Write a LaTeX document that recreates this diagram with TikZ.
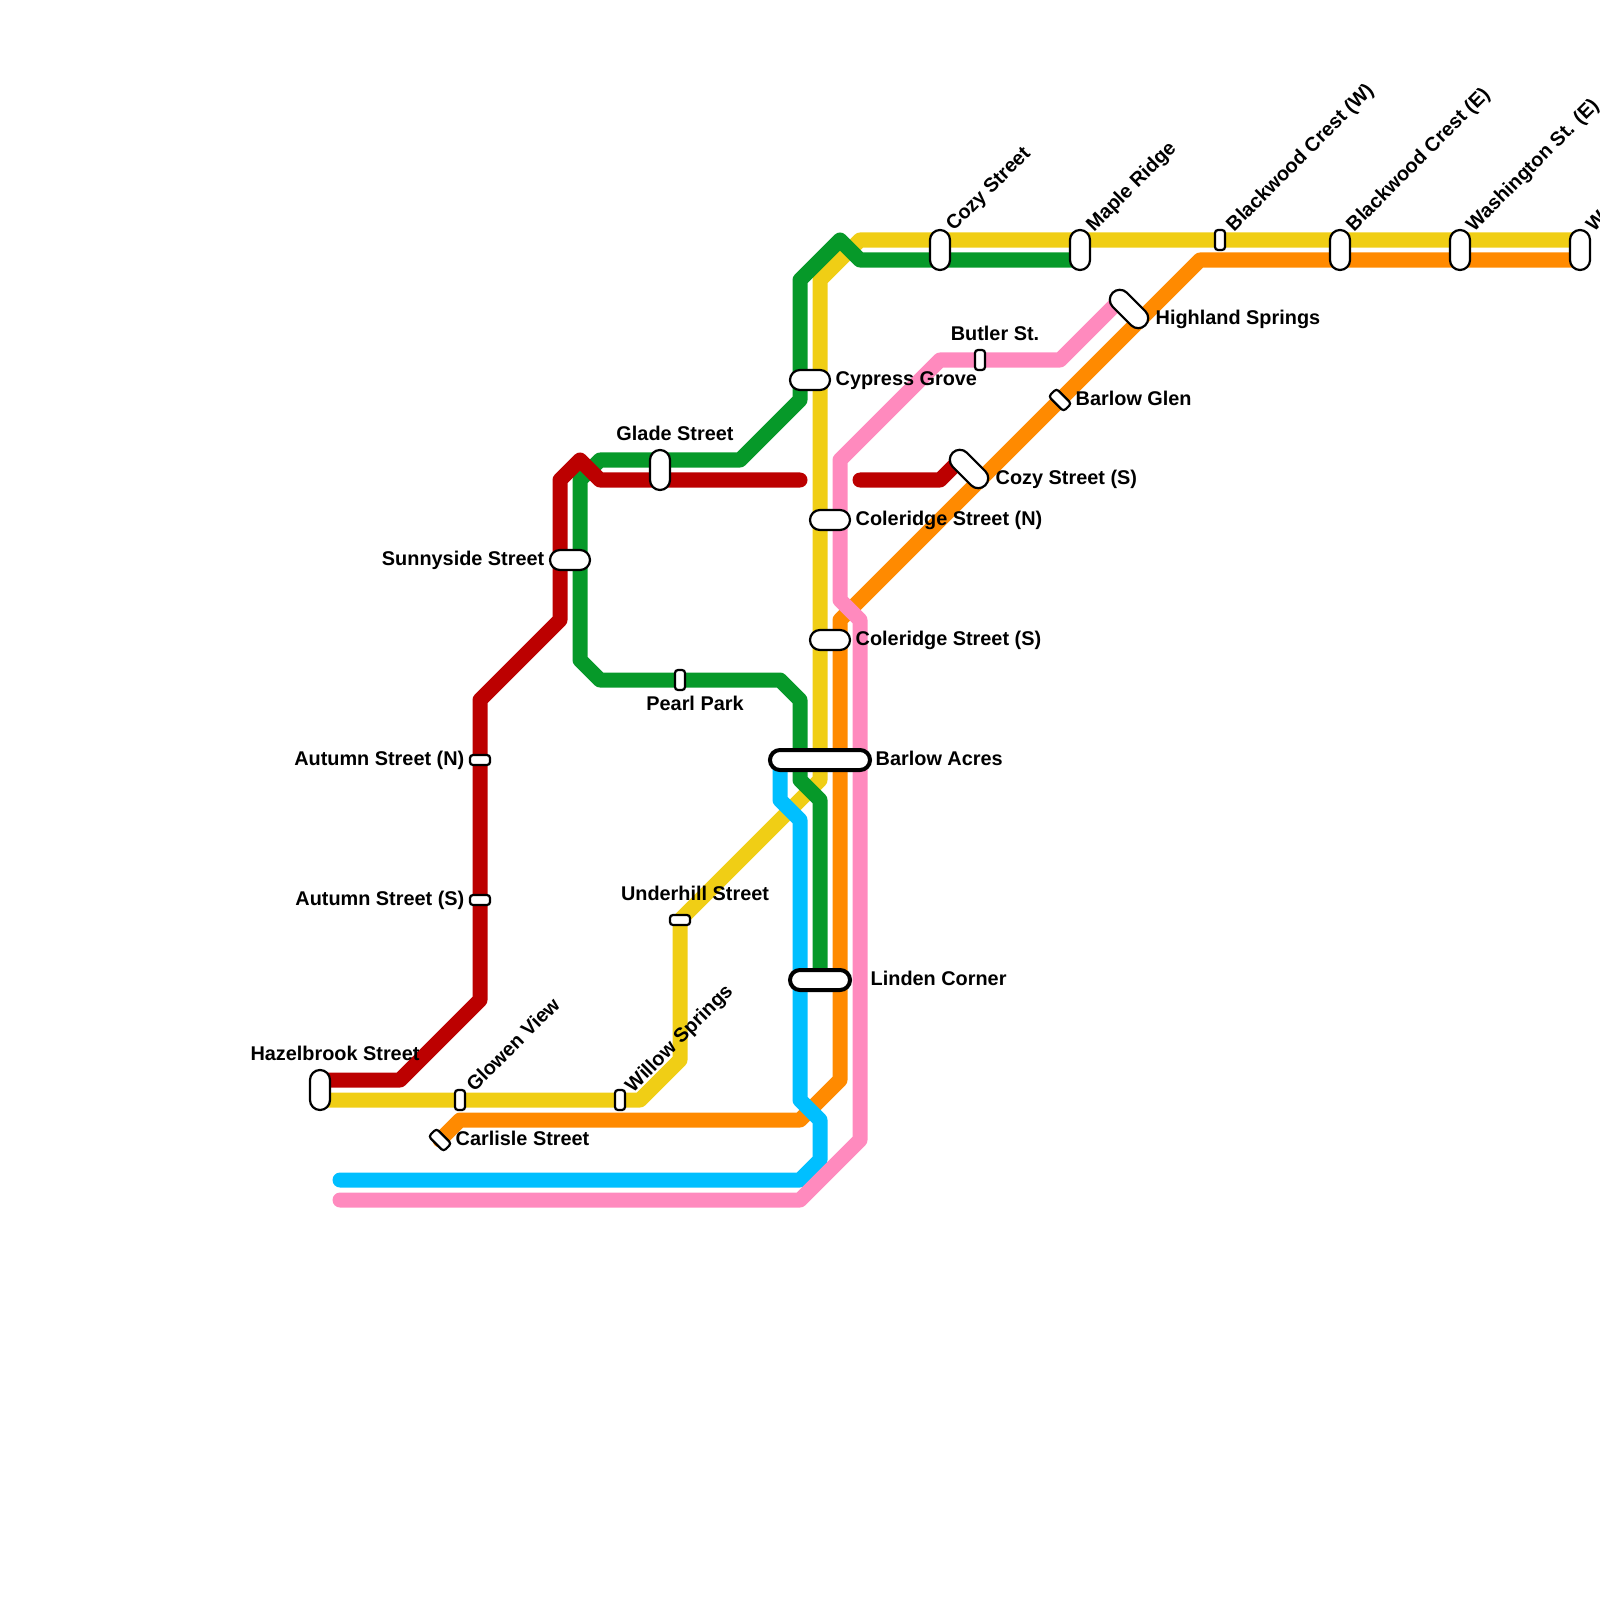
\documentclass[tikz,border=0pt]{standalone}
\usepackage{fontspec}
\setmainfont{Liberation Sans}
\usepackage{xcolor}
\usetikzlibrary{positioning}
\definecolor{lnred}{RGB}{188,0,0}
\definecolor{lngreen}{RGB}{6,153,41}
\definecolor{lnyellow}{RGB}{240,206,21}
\definecolor{lnorange}{RGB}{255,138,0}
\definecolor{lnpink}{RGB}{255,138,190}
\definecolor{lnblue}{RGB}{0,191,255}
\tikzset{
  metro/.style={line width=1.5mm, line join=round, line cap=round},
  stn/.style={rectangle, draw=black, fill=white, line width=0.22mm, inner sep=0pt,
              outer sep=0pt, rounded corners=1mm},
  tall/.style={stn, minimum width=2mm, minimum height=4mm},
  wide/.style={stn, minimum width=4mm, minimum height=2mm},
  slant/.style={stn, minimum width=4.6mm, minimum height=2mm, rotate=-45},
  halt/.style={stn, minimum width=1mm, minimum height=2mm, rounded corners=0.3mm},
  haltw/.style={stn, minimum width=2mm, minimum height=1mm, rounded corners=0.3mm},
  halts/.style={stn, minimum width=2.1mm, minimum height=1.1mm, rounded corners=0.3mm, rotate=-45},
  hub/.style={stn, line width=0.4mm, minimum height=2mm},
  lbl/.style={inner sep=0pt, font=\fontsize{5.65}{6.8}\selectfont\bfseries}
}
\begin{document}
\begin{tikzpicture}[x=0.01cm, y=-0.01cm]
  \useasboundingbox (0,0) rectangle (1600,1600);
  % bends of the lines
  \foreach \n/\x/\y in {y0/1580/240, y1/860/240, y2/820/280, y3/820/780, y4/680/920,
      y5/680/1060, y6/640/1100, y7/320/1100,
      o0/1580/260, o1/1200/260, o2/840/620, o3/840/1080, o4/800/1120, o5/460/1120, o6/440/1140,
      g0/1080/260, g1/860/260, g2/840/240, g3/800/280, g4/800/400, g5/740/460, g6/600/460,
      g7/580/480, g8/580/660, g9/600/680, g10/780/680, g11/800/700, g12/800/780, g13/820/800, g14/820/980,
      r0/320/1080, r1/400/1080, r2/480/1000, r3/480/700, r4/560/620, r5/560/480, r6/580/460,
      r7/600/480, r8/800/480, s0/860/480, s1/940/480, s2/960/460,
      b0/340/1180, b1/800/1180, b2/820/1160, b3/820/1120, b4/800/1100, b5/800/820, b6/780/800, b7/780/760,
      p0/340/1200, p1/800/1200, p2/860/1140, p3/860/620, p4/840/600, p5/840/460, p6/940/360,
      p7/1060/360, p8/1120/300}
    \coordinate (\n) at (\x,\y);
  % lines, back to front
  \draw[metro, lnyellow] (y0) \foreach \i in {1,...,7} { -- (y\i) };
  \draw[metro, lnorange] (o0) \foreach \i in {1,...,6} { -- (o\i) };
  \draw[metro, lngreen] (g0) \foreach \i in {1,...,14} { -- (g\i) };
  \draw[metro, lnred] (r0) \foreach \i in {1,...,8} { -- (r\i) };
  \draw[metro, lnred] (s0) -- (s1) -- (s2);
  \draw[metro, lnblue] (b0) \foreach \i in {1,...,7} { -- (b\i) };
  \draw[metro, lnpink] (p0) \foreach \i in {1,...,8} { -- (p\i) };
  % stations
  \foreach \n/\x/\y in {hazel/320/1090, glade/660/470, cozy/940/250, maple/1080/250,
      bwe/1340/250, wase/1460/250, wasw/1580/250}
    \node[tall] (\n) at (\x,\y) {};
  \foreach \n/\x/\y in {sunny/570/560, cypress/810/380, colen/830/520, coles/830/640}
    \node[wide] (\n) at (\x,\y) {};
  \foreach \n/\x/\y in {glowen/460/1100, willow/620/1100, pearl/680/680, butler/980/360, bww/1220/240}
    \node[halt] (\n) at (\x,\y) {};
  \foreach \n/\x/\y in {autn/480/760, auts/480/900, under/680/920}
    \node[haltw] (\n) at (\x,\y) {};
  \node[slant] (highland) at (1129,309) {};
  \node[slant] (cozys) at (969,469) {};
  \node[halts] (carlisle) at (440,1140) {};
  \node[halts] (glen) at (1060,400) {};
  \node[hub, minimum width=10mm] (barlow) at (820,760) {};
  \node[hub, minimum width=6mm] (linden) at (820,980) {};
  % labels
  \foreach \n/\x/\y/\t in {cypress/835/381/Cypress Grove, colen/855/520/Coleridge Street (N),
      coles/855/640/Coleridge Street (S), barlow/875/758/Barlow Acres, linden/870/978/Linden Corner,
      cozys/995/479/Cozy Street (S), glen/1075/398/Barlow Glen, highland/1155/319/Highland Springs,
      carlisle/455/1138/Carlisle Street}
    \node[lbl, anchor=west] (\n l) at (\x,\y) {\t};
  \foreach \n/\x/\y/\t in {sunny/545/560/Sunnyside Street, autn/465/760/Autumn Street (N),
      auts/465/900/Autumn Street (S)}
    \node[lbl, anchor=east] (\n l) at (\x,\y) {\t};
  \foreach \n/\x/\y/\t in {glade/675/433/Glade Street, pearl/695/703/Pearl Park, under/695/893/Underhill Street,
      butler/995/333/Butler St., hazel/335/1053/Hazelbrook Street}
    \node[lbl] (\n l) at (\x,\y) {\t};
  \foreach \n/\x/\y/\t in {glowen/469/1088/Glowen View, willow/629/1090/Willow Springs, cozy/950/229/Cozy Street,
      maple/1090/229/Maple Ridge, bww/1230/229/Blackwood Crest (W), bwe/1350/229/Blackwood Crest (E),
      wase/1470/229/Washington St. (E), wasw/1590/229/Washington St. (W)}
    \node[lbl, anchor=west, rotate=45] (\n l) at (\x,\y) {\t};
\end{tikzpicture}
\end{document}
